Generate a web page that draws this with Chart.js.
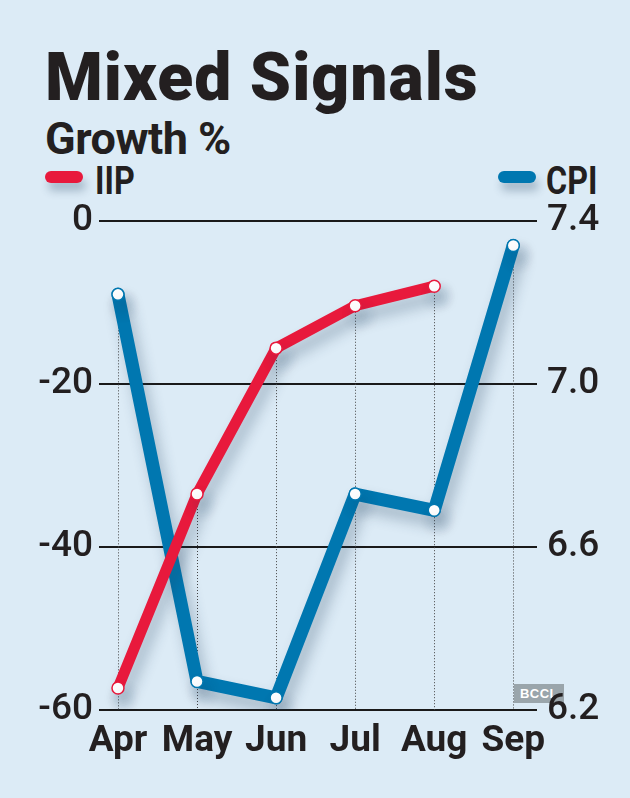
<!DOCTYPE html>
<html>
<head>
<meta charset="utf-8">
<script src="https://cdn.jsdelivr.net/npm/chart.js@4"></script>
<style>
  html, body { margin: 0; padding: 0; }
  body { width: 630px; height: 798px; background: #dcebf6; position: relative; overflow: hidden; color: #231f20; }
  .txt { position: absolute; white-space: nowrap; line-height: 1; }
  #title { left: 45px; top: 39px; font: 900 66px Roboto, sans-serif; letter-spacing: 1px; }
  #sub { left: 45px; top: 112px; font: 700 45px Roboto, sans-serif; letter-spacing: -0.5px; }
  .leg { top: 159px; font: 700 38px Roboto, sans-serif; transform: scaleX(0.85); transform-origin: left top; }
  .pill { position: absolute; top: 171px; width: 38px; height: 12px; border-radius: 6px; box-shadow: 3px 8px 8px rgba(40, 70, 100, 0.3); }
  #bccl { position: absolute; left: 514px; top: 684px; width: 50px; height: 19px; background: #9aa5ab; color: #fff; font: 700 13px "Liberation Sans", sans-serif; line-height: 19px; text-align: center; letter-spacing: 0.5px; }
  #wrap { position: absolute; left: 0; top: 0; width: 630px; height: 798px; }
</style>
</head>
<body>
<div class="txt" id="title">Mixed Signals</div>
<div class="txt" id="sub">Growth %</div>
<div class="pill" style="left:45px;background:#e8193c"></div>
<div class="txt leg" style="left:95px">IIP</div>
<div class="pill" style="left:498px;background:#0077b0"></div>
<div class="txt leg" style="left:546px">CPI</div>
<div id="bccl">BCCL</div>
<div id="wrap"><canvas id="chart" width="630" height="798"></canvas></div>
<script>
  "use strict";

  // Data.
  var months = ['Apr', 'May', 'Jun', 'Jul', 'Aug', 'Sep'];
  var iipGrowth = [-57.3, -33.5, -15.6, -10.4, -8.0, null];
  var cpiInflation = [7.22, 6.27, 6.23, 6.73, 6.69, 7.34];
  var iipTicks = [-60, -40, -20, 0];
  var cpiTicks = [6.2, 6.6, 7.0, 7.4];

  var RED = '#e8193c';
  var BLUE = '#0077b0';
  var INK = '#231f20';

  function toPoints(values) {
    return values.map(function (v, i) { return { x: i, y: v }; });
  }

  // Soft drop shadow under the lines.
  var shadowPlugin = {
    id: 'shadow',
    beforeDatasetDraw: function (chart) {
      var ctx = chart.ctx;
      ctx.save();
      ctx.shadowColor = 'rgba(30, 60, 90, 0.3)';
      ctx.shadowBlur = 14;
      ctx.shadowOffsetX = 5;
      ctx.shadowOffsetY = 10;
    },
    afterDatasetDraw: function (chart) {
      chart.ctx.restore();
    }
  };

  // Dotted drop lines from the highest point of each month to the base.
  var dropLines = {
    id: 'dropLines',
    beforeDatasetsDraw: function (chart) {
      var ctx = chart.ctx;
      var bottom = chart.chartArea.bottom;
      ctx.save();
      ctx.strokeStyle = '#444';
      ctx.lineWidth = 1;
      ctx.setLineDash([1, 2]);
      months.forEach(function (m, i) {
        var top = bottom;
        chart.data.datasets.forEach(function (ds, di) {
          var el = chart.getDatasetMeta(di).data[i];
          if (el && ds.data[i].y !== null && !el.skip) top = Math.min(top, el.y);
        });
        var x = chart.scales.x.getPixelForValue(i);
        ctx.beginPath();
        ctx.moveTo(Math.round(x) + 0.5, top);
        ctx.lineTo(Math.round(x) + 0.5, bottom);
        ctx.stroke();
      });
      ctx.restore();
    }
  };

  new Chart(document.getElementById('chart'), {
    type: 'line',
    data: {
      datasets: [{
        label: 'IIP',
        data: toPoints(iipGrowth),
        yAxisID: 'y',
        borderColor: RED,
        borderWidth: 11,
        pointRadius: 6,
        pointBackgroundColor: '#fff',
        pointBorderColor: RED,
        pointBorderWidth: 1.5
      }, {
        label: 'CPI',
        data: toPoints(cpiInflation),
        yAxisID: 'y1',
        borderColor: BLUE,
        borderWidth: 13,
        pointRadius: 6,
        pointBackgroundColor: '#fff',
        pointBorderColor: BLUE,
        pointBorderWidth: 1.5
      }]
    },
    options: {
      responsive: false,
      animation: false,
      events: [],
      layout: { padding: { top: 221, left: 0, right: 0, bottom: 0 } },
      elements: {
        line: { tension: 0, borderCapStyle: 'round', borderJoinStyle: 'round' }
      },
      plugins: { legend: { display: false }, tooltip: { enabled: false } },
      scales: {
        x: {
          type: 'linear',
          min: -0.24,
          max: 5.3,
          grid: { display: false, drawTicks: false },
          border: { display: false },
          afterBuildTicks: function (scale) {
            scale.ticks = months.map(function (m, i) { return { value: i }; });
          },
          afterFit: function (scale) { scale.height = 88; },
          ticks: {
            padding: 10,
            autoSkip: false,
            maxRotation: 0,
            color: INK,
            font: { family: 'Roboto', size: 37, weight: 'bold' },
            callback: function (v) { return months[v]; }
          }
        },
        y: {
          position: 'left',
          min: -60,
          max: 0,
          afterBuildTicks: function (scale) {
            scale.ticks = iipTicks.map(function (v) { return { value: v }; });
          },
          afterFit: function (scale) { scale.width = 99; },
          grid: { color: '#1a1a1a', lineWidth: 2, drawTicks: false },
          border: { display: false },
          ticks: {
            padding: 6,
            color: INK,
            font: { family: 'Roboto', size: 37, weight: '500' }
          }
        },
        y1: {
          position: 'right',
          min: 6.2,
          max: 7.4,
          afterBuildTicks: function (scale) {
            scale.ticks = cpiTicks.map(function (v) { return { value: v }; });
          },
          afterFit: function (scale) { scale.width = 93; },
          grid: { display: false, drawTicks: false },
          border: { display: false },
          ticks: {
            padding: 10,
            color: INK,
            font: { family: 'Roboto', size: 37, weight: '500' },
            callback: function (v) { return Number(v).toFixed(1); }
          }
        }
      }
    },
    plugins: [dropLines, shadowPlugin]
  });
</script>
</body>
</html>
